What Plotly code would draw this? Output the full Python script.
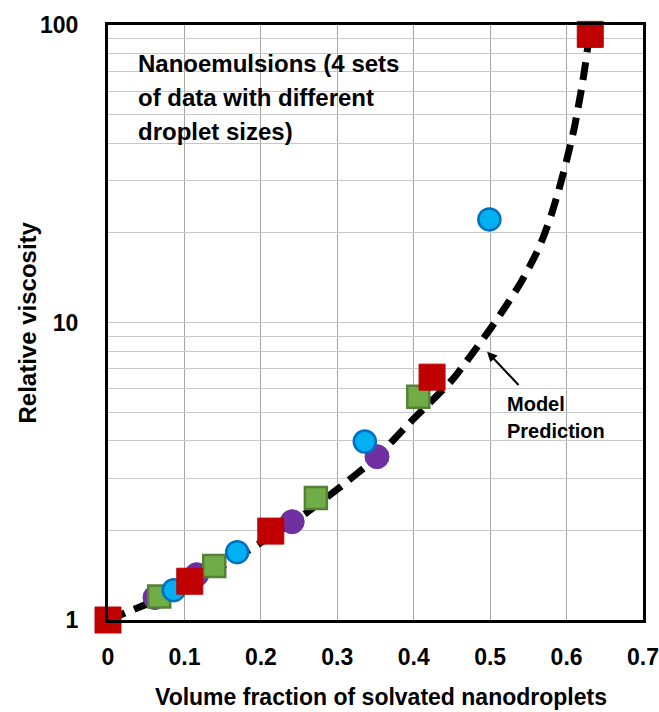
import plotly.graph_objects as go

# Data
red_x = [0.0, 0.107, 0.213, 0.424, 0.631]
red_y = [1.0, 1.35, 1.99, 6.55, 93.0]

green_x = [0.067, 0.139, 0.272, 0.406]
green_y = [1.20, 1.52, 2.57, 5.63]

blue_x = [0.086, 0.169, 0.336, 0.499]
blue_y = [1.26, 1.69, 3.98, 22.2]

purple_x = [0.0615, 0.116, 0.241, 0.352]
purple_y = [1.19, 1.42, 2.14, 3.54]

model_x = [0.0, 0.05, 0.1, 0.15, 0.2, 0.25, 0.3, 0.35, 0.4, 0.45, 0.5, 0.52, 0.54,
           0.56, 0.57, 0.58, 0.59, 0.6, 0.61, 0.62, 0.625, 0.63]
model_y = [1.0, 1.13, 1.30, 1.52, 1.82, 2.2, 2.75, 3.5, 4.75, 6.4, 9.5, 11.3, 13.6,
           17.0, 19.5, 23.0, 28.0, 35.0, 45.0, 62.0, 75.0, 93.0]

x_ticks = [0, 0.1, 0.2, 0.3, 0.4, 0.5, 0.6, 0.7]
x_ticktext = ["0", "0.1", "0.2", "0.3", "0.4", "0.5", "0.6", "0.7"]
y_ticks = [1, 2, 3, 4, 5, 6, 7, 8, 9, 10, 20, 30, 40, 50, 60, 70, 80, 90, 100]
y_ticktext = ["1"] + [""] * 8 + ["10"] + [""] * 8 + ["100"]

FONT = "Liberation Sans"

fig = go.Figure()
fig.add_trace(go.Scatter(x=model_x, y=model_y, mode="lines", line_shape="spline",
                         line=dict(color="black", width=7, dash="18px,10px", smoothing=0.6),
                         hoverinfo="skip", cliponaxis=False))
fig.add_trace(go.Scatter(x=purple_x, y=purple_y, mode="markers", cliponaxis=False,
                         marker=dict(symbol="circle", size=24, color="#7030A0",
                                     line=dict(color="#7030A0", width=1))))
fig.add_trace(go.Scatter(x=green_x, y=green_y, mode="markers", cliponaxis=False,
                         marker=dict(symbol="square", size=22, color="#70AD47",
                                     line=dict(color="#548235", width=2.5))))
fig.add_trace(go.Scatter(x=blue_x, y=blue_y, mode="markers", cliponaxis=False,
                         marker=dict(symbol="circle", size=22, color="#00B0F0",
                                     line=dict(color="#0070C0", width=2.5))))
fig.add_trace(go.Scatter(x=red_x, y=red_y, mode="markers", cliponaxis=False,
                         marker=dict(symbol="square", size=26, color="#C00000",
                                     line=dict(color="#C00000", width=1))))

fig.update_layout(
    width=659, height=712, autosize=False,
    margin=dict(l=108, r=16, t=25, b=92),
    paper_bgcolor="white", plot_bgcolor="white",
    showlegend=False,
    font=dict(family=FONT, color="black"),
)
fig.update_xaxes(range=[0, 0.7], tickvals=x_ticks, ticktext=x_ticktext, automargin=False,
                 showgrid=True, gridcolor="#A6A6A6", gridwidth=1,
                 zeroline=False, showline=True, linecolor="black", linewidth=3, mirror=True,
                 ticks="", ticklabelstandoff=14,
                 tickfont=dict(family=FONT, size=23, weight="bold"))
fig.update_yaxes(type="log", range=[0, 2], tickvals=y_ticks, ticktext=y_ticktext, automargin=False,
                 showgrid=True, gridcolor="#C8C8C8", gridwidth=1,
                 zeroline=False, showline=True, linecolor="black", linewidth=3, mirror=True,
                 ticks="", ticklabelstandoff=22,
                 tickfont=dict(family=FONT, size=23, weight="bold"))

# Axis titles
fig.add_annotation(text="<b>Volume fraction of solvated nanodroplets</b>", xref="paper", yref="paper",
                   x=0, xshift=273, y=0, yshift=-77, xanchor="center", yanchor="middle", showarrow=False,
                   font=dict(family=FONT, size=23))
fig.add_annotation(text="<b>Relative viscosity</b>", xref="paper", yref="paper", textangle=-90,
                   x=0, y=0.5, xshift=-81, xanchor="center", yanchor="middle", showarrow=False,
                   font=dict(family=FONT, size=24))

# Text block
for i, line in enumerate(["Nanoemulsions (4 sets", "of data with different", "droplet sizes)"]):
    fig.add_annotation(text="<b>" + line + "</b>", xref="paper", yref="paper",
                       x=0, xshift=28, y=1, yshift=-38 - 34 * i, xanchor="left", yanchor="middle",
                       showarrow=False, font=dict(family=FONT, size=24))

# Model prediction label and arrow
fig.add_annotation(text="<b>Model</b>", xref="paper", yref="paper", x=0, xshift=397,
                   y=0, yshift=216, xanchor="left", yanchor="middle", showarrow=False,
                   font=dict(family=FONT, size=20))
fig.add_annotation(text="<b>Prediction</b>", xref="paper", yref="paper", x=0, xshift=397,
                   y=0, yshift=189, xanchor="left", yanchor="middle", showarrow=False,
                   font=dict(family=FONT, size=20))
fig.add_annotation(x=0.496, y=0.902, ax=0.539, ay=0.785, xref="x", yref="y", axref="x", ayref="y",
                   text="", showarrow=True, arrowhead=2, arrowsize=1, arrowwidth=2, arrowcolor="black")

fig.write_html("out.html")
